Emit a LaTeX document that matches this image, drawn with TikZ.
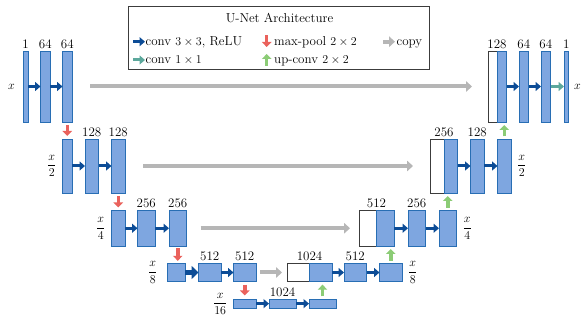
\documentclass[tikz,border=0pt]{standalone}
\usetikzlibrary{arrows.meta}
\definecolor{fmfill}{RGB}{126,166,224}
\definecolor{fmdraw}{RGB}{40,110,180}
\definecolor{convc}{RGB}{12,76,150}
\definecolor{poolc}{RGB}{234,98,92}
\definecolor{upc}{RGB}{140,204,118}
\definecolor{onec}{RGB}{92,168,156}
\definecolor{copyc}{RGB}{182,182,182}
\definecolor{legdraw}{RGB}{60,60,60}
\newcommand\myfr[2]{$\displaystyle\frac{#1}{#2}$}
\tikzset{
  fm/.style={draw=fmdraw, fill=fmfill, line width=0.8pt, inner sep=0pt, outer sep=0pt},
  cp/.style={draw=legdraw, fill=white, line width=0.8pt, inner sep=0pt, outer sep=0pt},
  lA/.style={minimum height=71pt},
  lB/.style={minimum height=54pt},
  lC/.style={minimum height=35.5pt},
  lD/.style={minimum height=18.4pt},
  lE/.style={minimum height=9.3pt},
  lab/.style={anchor=south, inner sep=0pt, yshift=2.5pt},
  sideL/.style={anchor=east, inner sep=0pt, xshift=-6pt},
  sideR/.style={anchor=west, inner sep=0pt, xshift=6pt},
  conv/.style={draw=convc, line width=3pt, -{Triangle[length=5.5pt,width=9pt]}},
  convbig/.style={draw=convc, line width=4.5pt, -{Triangle[length=7pt,width=13pt]}},
  onebyone/.style={draw=onec, line width=3pt, -{Triangle[length=5.5pt,width=9pt]}},
  pool/.style={draw=poolc, line width=3.5pt, -{Triangle[length=5pt,width=9.5pt]}},
  upconv/.style={draw=upc, line width=3.5pt, -{Triangle[length=5pt,width=9.5pt]}},
  copyarr/.style={draw=copyc, line width=4pt, -{Triangle[length=6pt,width=10.5pt]}},
  legtext/.style={anchor=base west, inner sep=0pt}
}
\begin{document}
\begin{tikzpicture}[x=1pt,y=-1pt,font=\fontsize{13}{15}\selectfont]
\useasboundingbox (0,0) rectangle (581,320);

% ---------- legend ----------
\node[draw=legdraw, line width=0.8pt, minimum width=301pt, minimum height=63pt, inner sep=0pt] (leg) at (278.8,37.5) {};
\node[anchor=base, inner sep=0pt] (title) at (279.5,22.3) {U-Net Architecture};
\coordinate (lc1) at (133.3,41.7); \coordinate (lc2) at (145,41.7);
\draw[conv] (lc1) -- (lc2);
\node[legtext] (t1) at (145.5,46) {conv $3\times 3$, ReLU};
\coordinate (lo1) at (133.3,60); \coordinate (lo2) at (145,60);
\draw[onebyone] (lo1) -- (lo2);
\node[legtext] (t2) at (145.5,63.8) {conv $1\times 1$};
\coordinate (lp1) at (266.7,35.5); \coordinate (lp2) at (266.7,47);
\draw[pool] (lp1) -- (lp2);
\node[legtext] (t3) at (274,46) {max-pool $2\times 2$};
\coordinate (lu1) at (266.7,66); \coordinate (lu2) at (266.7,54);
\draw[upconv] (lu1) -- (lu2);
\node[legtext] (t4) at (274,63.8) {up-conv $2\times 2$};
\coordinate (lg1) at (383,41.7); \coordinate (lg2) at (395,41.7);
\draw[copyarr] (lg1) -- (lg2);
\node[legtext] (t5) at (396.5,46) {copy};

% ---------- level 1 ----------
\node[fm,lA,minimum width=5pt]   (a1) at (25.5,86.5) {};
\node[fm,lA,minimum width=9.5pt] (a2) at (45.25,86.5) {};
\node[fm,lA,minimum width=9.5pt] (a3) at (67.25,86.5) {};
\node[cp,lA,minimum width=9pt]   (w1) at (492.5,86.5) {};
\node[fm,lA,minimum width=9.5pt] (b1) at (501.75,86.5) {};
\node[fm,lA,minimum width=9.5pt] (a4) at (523.75,86.5) {};
\node[fm,lA,minimum width=9.5pt] (a5) at (545.75,86.5) {};
\node[fm,lA,minimum width=4.5pt] (a6) at (566.25,86.5) {};
\node[lab] (la1) at (a1.north) {1};
\node[lab] (la2) at (a2.north) {64};
\node[lab] (la3) at (a3.north) {64};
\node[lab] (lb1) at (b1.north west) {128};
\node[lab] (la4) at (a4.north) {64};
\node[lab] (la5) at (a5.north) {64};
\node[lab] (la6) at (a6.north) {1};
\node[sideL,xshift=-2pt] (sa) at (a1.west) {$x$};
\node[sideR,xshift=-0.5pt] (sb) at (a6.east) {$x$};
\draw[conv] (a1.east) -- (a2.west);
\draw[conv] (a2.east) -- (a3.west);
\draw[conv] (b1.east) -- (a4.west);
\draw[conv] (a4.east) -- (a5.west);
\draw[onebyone] (a5.east) -- (a6.west);
\draw[copyarr, shorten <=18pt, shorten >=16pt] (a3.east) -- (w1.west);

% ---------- level 2 ----------
\node[fm,lB,minimum width=9.5pt]  (c1) at (67.25,166) {};
\node[fm,lB,minimum width=13.5pt] (c2) at (91.75,166) {};
\node[fm,lB,minimum width=13.5pt] (c3) at (118.25,166) {};
\node[cp,lB,minimum width=13.5pt] (w2) at (437.25,166) {};
\node[fm,lB,minimum width=13.5pt] (b2) at (450.75,166) {};
\node[fm,lB,minimum width=13.5pt] (c5) at (477.25,166) {};
\node[fm,lB,minimum width=13.5pt] (c6) at (504.25,166) {};
\node[lab] (lc2) at (c2.north) {128};
\node[lab] (lc3) at (c3.north) {128};
\node[lab] (lb2) at (b2.north west) {256};
\node[lab] (lc5) at (c5.north) {128};
\node[sideL] (sc) at (c1.west) {\myfr{x}{2}};
\node[sideR] (sd) at (c6.east) {\myfr{x}{2}};
\draw[conv] (c1.east) -- (c2.west);
\draw[conv] (c2.east) -- (c3.west);
\draw[conv] (b2.east) -- (c5.west);
\draw[conv] (c5.east) -- (c6.west);
\draw[copyarr, shorten <=18pt, shorten >=17.5pt] (c3.east) -- (w2.west);

% ---------- level 3 ----------
\node[fm,lC,minimum width=13.5pt] (d1) at (118.25,228.25) {};
\node[fm,lC,minimum width=17.5pt] (d2) at (146.25,228.25) {};
\node[fm,lC,minimum width=17.5pt] (d3) at (177.75,228.25) {};
\node[cp,lC,minimum width=17.5pt] (w3) at (367.75,228.25) {};
\node[fm,lC,minimum width=17.5pt] (b3) at (385.25,228.25) {};
\node[fm,lC,minimum width=17.5pt] (d5) at (416.75,228.25) {};
\node[fm,lC,minimum width=17.5pt] (d6) at (447.75,228.25) {};
\node[lab] (ld2) at (d2.north) {256};
\node[lab] (ld3) at (d3.north) {256};
\node[lab] (lb3) at (b3.north west) {512};
\node[lab] (ld5) at (d5.north) {256};
\node[sideL] (se) at (d1.west) {\myfr{x}{4}};
\node[sideR] (sf) at (d6.east) {\myfr{x}{4}};
\draw[conv] (d1.east) -- (d2.west);
\draw[conv] (d2.east) -- (d3.west);
\draw[conv] (b3.east) -- (d5.west);
\draw[conv] (d5.east) -- (d6.west);
\draw[copyarr, shorten <=14pt, shorten >=9pt] (d3.east) -- (w3.west);

% ---------- level 4 ----------
\node[fm,lD,minimum width=17.5pt] (e1) at (176.25,272.5) {};
\node[fm,lD,minimum width=22.5pt] (e2) at (209.75,272.5) {};
\node[fm,lD,minimum width=22.5pt] (e3) at (244.75,272.5) {};
\node[cp,lD,minimum width=22.5pt] (w4) at (298.25,272.5) {};
\node[fm,lD,minimum width=22.5pt] (b4) at (320.75,272.5) {};
\node[fm,lD,minimum width=22.5pt] (e5) at (355.25,272.5) {};
\node[fm,lD,minimum width=22.5pt] (e6) at (390.75,272.5) {};
\node[lab] (le2) at (e2.north) {512};
\node[lab] (le3) at (e3.north) {512};
\node[lab] (lb4) at (b4.north west) {1024};
\node[lab] (le5) at (e5.north) {512};
\node[sideL,xshift=-4pt] (sg) at (e1.west) {\myfr{x}{8}};
\node[sideR] (sh) at (e6.east) {\myfr{x}{8}};
\draw[convbig] (e1.east) -- (e2.west);
\draw[conv] (e2.east) -- (e3.west);
\draw[conv] (b4.east) -- (e5.west);
\draw[conv] (e5.east) -- (e6.west);
\draw[copyarr, shorten <=4pt, shorten >=5pt] (e3.east) -- (w4.west);

% ---------- level 5 ----------
\node[fm,lE,minimum width=22.5pt] (f1) at (244.75,303.65) {};
\node[fm,lE,minimum width=27pt]   (f2) at (282.5,303.65) {};
\node[fm,lE,minimum width=27pt]   (f3) at (322.5,303.65) {};
\node[lab] (lf2) at (f2.north) {1024};
\node[sideL] (si) at (f1.west) {\myfr{x}{16}};
\draw[conv] (f1.east) -- (f2.west);
\draw[conv] (f2.east) -- (f3.west);

% ---------- max-pool arrows ----------
\draw[pool, shorten <=3pt, shorten >=3pt] (a3.south) -- (a3.south |- c1.north);
\draw[pool, shorten <=3pt, shorten >=3pt] (c3.south) -- (c3.south |- d1.north);
\draw[pool, shorten <=2.5pt, shorten >=2.5pt] (d3.south) -- (d3.south |- e1.north);
\draw[pool, shorten <=3pt, shorten >=3.5pt] (e3.south) -- (e3.south |- f1.north);

% ---------- up-conv arrows ----------
\draw[upconv, shorten <=2.5pt, shorten >=3pt] (c6.north) -- (c6.north |- b1.south);
\draw[upconv, shorten <=2.5pt, shorten >=3pt] (d6.north) -- (d6.north |- b2.south);
\draw[upconv, shorten <=2.5pt, shorten >=3pt] (e6.north) -- (e6.north |- b3.south);
\draw[upconv, shorten <=2.5pt, shorten >=3pt] (f3.north) -- (f3.north |- b4.south);
\end{tikzpicture}
\end{document}
